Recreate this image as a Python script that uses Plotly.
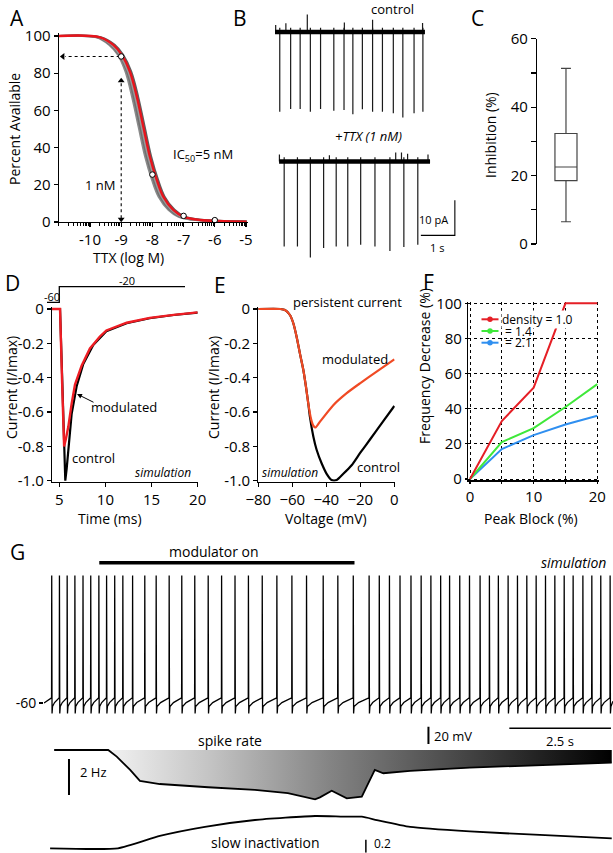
import math
import plotly.graph_objects as go

W, H = 613, 853
FONT = "Open Sans"

# ======================= DATA =======================
# ---- Panel A: TTX dose-response ----
a_log_ttx = [-11, -9.68, -9.25, -8.98, -8.72, -8.5, -8.29, -8.08, -7.86, -7.65, -7.33, -7.01, -6.47, -4.98]
a_red_fit = [100, 99.3, 95.2, 89.8, 80.8, 67.4, 51.2, 35.1, 22.6, 13.6, 6.5, 2.9, 1.1, 0.2]
a_gray_fit_x = [
    [-11, -9.80, -9.38, -9.10, -8.86, -8.65, -8.44, -8.23, -8.01, -7.80, -7.48, -7.16, -6.62, -4.98],
    [-11, -9.76, -9.34, -9.06, -8.81, -8.60, -8.39, -8.18, -7.96, -7.75, -7.43, -7.11, -6.57, -4.98],
    [-11, -9.72, -9.30, -9.03, -8.77, -8.55, -8.34, -8.13, -7.91, -7.70, -7.38, -7.06, -6.52, -4.98],
    [-11, -9.65, -9.21, -8.94, -8.68, -8.46, -8.25, -8.04, -7.82, -7.61, -7.29, -6.97, -6.43, -4.98],
]
a_gray_colors = ["#8a8a8a", "#707070", "#9a9a9a", "#5e5e5e"]
a_pts_log = [-9, -8, -7, -6]
a_pts_pct = [89, 25.5, 3.3, 1.0]
a_xticks = [-10, -9, -8, -7, -6, -5]
a_yticks = [0, 20, 40, 60, 80, 100]

# ---- Panel B: recordings ----
b_ctl_span = [0.0, 4.41]
b_ctl_spike_t = [0.14, 0.46, 0.74, 1.04, 1.34, 1.73, 2.03, 2.29, 2.57, 2.87, 3.16, 3.48, 3.76, 4.09, 4.35]
b_ctl_spike_pA = [-22.8, -22.0, -22.0, -22.8, -22.0, -22.5, -22.3, -23.5, -22.1, -22.8, -22.8, -23.2, -24.4, -23.2, -22.8]
b_ctl_blip_t = [0.02, 0.32, 0.95, 2.04, 2.87, 4.34]
b_ctl_blip_pA = [2.0, 2.5, 5.6, 2.7, 3.5, 2.6]
b_ttx_span = [0.12, 4.56]
b_ttx_spike_t = [0.27, 0.66, 1.04, 1.43, 1.80, 2.14, 2.52, 2.94, 3.38, 3.79, 4.20]
b_ttx_spike_pA = [-24.3, -24.3, -27.4, -24.7, -24.3, -24.3, -23.8, -24.3, -25.6, -24.4, -23.8]
b_ttx_blip_t = [0.13, 1.6, 3.55, 3.72, 3.9, 4.5]
b_ttx_blip_pA = [2.0, 1.8, 2.6, 2.6, 2.2, 2.0]

# ---- Panel C: inhibition box ----
c_q1, c_median, c_q3 = 18.5, 22.5, 32.3
c_low, c_high = 6.5, 51.3
c_yticks = [0, 10, 20, 30, 40, 50, 60]
c_ytext = ["0", "", "20", "", "40", "", "60"]

# ---- Panel D: transient current ----
d_t_ctl = [4.2, 5.08, 5.3, 5.5, 5.65, 5.8, 5.98, 6.34, 6.88, 7.6, 8.68, 10.1, 12.3, 14.8, 17.4, 20]
d_i_ctl = [0, 0, -0.38, -0.75, -1.0, -0.93, -0.82, -0.61, -0.45, -0.32, -0.21, -0.13, -0.083, -0.054, -0.035, -0.021]
d_t_mod = [4.2, 5.08, 5.3, 5.52, 5.7, 5.98, 6.34, 6.7, 7.42, 8.32, 9.4, 10.1, 12.3, 14.8, 17.4, 20]
d_i_mod = [0, 0, -0.42, -0.80, -0.76, -0.685, -0.55, -0.44, -0.33, -0.23, -0.16, -0.125, -0.08, -0.052, -0.034, -0.02]
di_ticks = [0, -0.2, -0.4, -0.6, -0.8, -1.0]
di_ticktext = ["0", "-0.2", "-0.4", "-0.6", "-0.8", "-1.0"]

# ---- Panel E: persistent current ----
e_v_mod = [-80, -67, -64.3, -61.4, -59.4, -57.5, -55.5, -53.5, -52, -50.6, -49, -47.6, -46.3, -43.7, -35.9, -28, -20.2, -10.4, 0]
e_i_mod = [0, 0, -0.006, -0.035, -0.083, -0.16, -0.26, -0.355, -0.45, -0.55, -0.64, -0.68, -0.69, -0.656, -0.56, -0.49, -0.433, -0.365, -0.293]
e_v_ctl = [-80, -67, -64.3, -61.4, -59.4, -57.5, -55.5, -53.5, -52, -50.6, -49.6, -47.6, -45.7, -42.7, -39.8, -36.9, -33.9, -30, -25.1, -20.2, -14.3, -7.45, 0]
e_i_ctl = [0, 0, -0.006, -0.035, -0.083, -0.16, -0.26, -0.355, -0.45, -0.55, -0.63, -0.744, -0.82, -0.9, -0.96, -0.996, -0.996, -0.96, -0.91, -0.84, -0.76, -0.666, -0.565]

# ---- Panel F: frequency decrease ----
f_block = [0, 5, 10, 15, 20]
f_dens_10 = [0, 33, 52, 100, 100]
f_dens_14 = [0, 21, 29, 41, 54]
f_dens_21 = [0, 17, 25, 31, 36]
f_names = ["density = 1.0", "= 1.4", "= 2.1"]
f_colors = ["#e51f26", "#3fe83a", "#2f8ff0"]

# ---- Panel G: simulation ----
g_spike_t = [0.19, 0.38, 0.57, 0.76, 0.96, 1.15, 1.35, 1.54, 1.74, 1.94, 2.18, 2.48, 2.76, 3.08,
             3.39, 3.71, 4.04, 4.37, 4.70, 5.03, 5.37, 5.73, 6.10, 6.46, 6.87, 7.23, 7.61, 8.00,
             8.25, 8.50, 8.76, 9.03, 9.28, 9.52, 9.76, 9.98, 10.23, 10.47, 10.73, 10.96, 11.18,
             11.42, 11.65, 11.88, 12.11, 12.34, 12.57, 12.80, 13.02, 13.26, 13.48, 13.70, 13.93]
g_mod_on = [1.36, 7.64]
g_rate_t = [0.25, 1.58, 1.79, 2.12, 2.36, 2.85, 4.04, 5.19, 6.00, 6.34, 6.67, 6.79, 7.08, 7.45,
            7.82, 8.14, 8.35, 9.01, 10.48, 13.97]
g_rate_hz = [5.10, 5.10, 4.73, 3.99, 3.38, 3.21, 3.03, 2.88, 2.71, 2.54, 2.36, 2.47, 2.84, 2.41,
             2.51, 3.99, 3.81, 3.94, 4.12, 4.40]
g_rate_base = 5.10
g_slow_t = [0.15, 1.82, 2.85, 3.96, 5.19, 6.67, 7.36, 7.82, 8.19, 9.01, 10.48, 12.2, 13.97]
g_slow_val = [0, 0, 0.19, 0.33, 0.435, 0.497, 0.488, 0.486, 0.435, 0.33, 0.26, 0.205, 0.154]

# ======================= HELPERS =======================
def lin(va, pa, vb, pb):
    s = (pb - pa) / (vb - va)
    return lambda v: pa + (v - va) * s

def xdom(f, r):
    p0, p1 = f(r[0]), f(r[1])
    return [max(0, min(p0, p1) / W), min(1, max(p0, p1) / W)]

def ydom(f, r):
    p0, p1 = f(r[0]), f(r[1])
    return [max(0, 1 - max(p0, p1) / H), min(1, 1 - min(p0, p1) / H)]

TICKSIZE = 15

def axstyle(**kw):
    d = dict(showline=True, linecolor="black", linewidth=1.2, ticks="outside", ticklen=4,
             tickwidth=1.2, tickcolor="black", showgrid=False, zeroline=False, automargin=False,
             tickfont=dict(size=TICKSIZE, color="black", family=FONT), fixedrange=True)
    d.update(kw)
    return d

hidden = dict(visible=False, fixedrange=True, showgrid=False, zeroline=False, automargin=False)

fig = go.Figure()
layout = {}
annotations = []

def txt(x, y, s, size=14, angle=0, anchor="center", bg=None):
    a = dict(x=x, y=y, xref="x11", yref="y11", text=s, showarrow=False,
             font=dict(size=size, family=FONT, color="black"), textangle=angle,
             xanchor=anchor, yanchor="middle")
    if bg:
        a["bgcolor"] = bg
        a["borderpad"] = 0
    annotations.append(a)

# ======================= PANEL A =======================
fxA = lin(-10, 90, -5, 246)
fyA = lin(0, 222, 100, 36)
rxA, ryA = [-11, -4.93], [0, 101.5]
a_minor = [n + math.log10(k) for n in range(-11, -5) for k in range(2, 10)] + [-11]
layout["xaxis"] = axstyle(domain=xdom(fxA, rxA), range=rxA, anchor="y", tickvals=a_xticks,
                          ticktext=[str(v) for v in a_xticks],
                          minor=dict(tickvals=a_minor, ticks="outside", ticklen=2.5, tickcolor="black", tickwidth=1))
layout["yaxis"] = axstyle(domain=ydom(fyA, ryA), range=ryA, anchor="x", tickvals=a_yticks,
                          ticktext=[str(v) for v in a_yticks])
for gxs, gc in zip(a_gray_fit_x, a_gray_colors):
    fig.add_trace(go.Scatter(x=gxs, y=a_red_fit, mode="lines", line=dict(color=gc, width=2.2, shape="spline"),
                             xaxis="x", yaxis="y", hoverinfo="skip"))
fig.add_trace(go.Scatter(x=a_log_ttx, y=a_red_fit, mode="lines", line=dict(color="#e8141c", width=2.4, shape="spline"),
                         xaxis="x", yaxis="y"))
# dotted arrows at 1 nM
fig.add_trace(go.Scatter(x=[a_pts_log[0] - 0.05, -10.8], y=[a_pts_pct[0], a_pts_pct[0]], mode="lines",
                         line=dict(color="black", width=1.1, dash="dot"), xaxis="x", yaxis="y"))
fig.add_trace(go.Scatter(x=[a_pts_log[0], a_pts_log[0]], y=[2, 75], mode="lines",
                         line=dict(color="black", width=1.1, dash="dot"), xaxis="x", yaxis="y"))
fig.add_trace(go.Scatter(x=[-10.87, a_pts_log[0], a_pts_log[0]], y=[a_pts_pct[0], 76, 1.5], mode="markers",
                         marker=dict(symbol=["triangle-left", "triangle-up", "triangle-down"], size=6, color="black"),
                         xaxis="x", yaxis="y", cliponaxis=False))
fig.add_trace(go.Scatter(x=a_pts_log, y=a_pts_pct, mode="markers",
                         marker=dict(symbol="circle", size=5.5, color="white", line=dict(color="black", width=1)),
                         xaxis="x", yaxis="y", cliponaxis=False))

# ======================= PANEL B =======================
fxB = lin(0, 275, 1, 309)
rxB = [0, 5.35]
fyB1 = lin(0, 32, -10, 67)
ryB1 = [-26, 5]
fyB2 = lin(0, 161.5, -10, 196.5)
ryB2 = [-30, 5]
layout["xaxis2"] = dict(hidden, domain=xdom(fxB, rxB), range=rxB, anchor="y2")
layout["yaxis2"] = dict(hidden, domain=ydom(fyB1, ryB1), range=ryB1, anchor="x2")
layout["xaxis3"] = dict(hidden, domain=xdom(fxB, rxB), range=rxB, anchor="y3")
layout["yaxis3"] = dict(hidden, domain=ydom(fyB2, ryB2), range=ryB2, anchor="x3")

def spikes(ts, amps, top):
    xs, ys = [], []
    for t, a in zip(ts, amps):
        xs += [t, t, None]
        ys += [top, a, None]
    return xs, ys

for xa, ya, span, st, sa, bt, ba in [("x2", "y2", b_ctl_span, b_ctl_spike_t, b_ctl_spike_pA, b_ctl_blip_t, b_ctl_blip_pA),
                                     ("x3", "y3", b_ttx_span, b_ttx_spike_t, b_ttx_spike_pA, b_ttx_blip_t, b_ttx_blip_pA)]:
    sx, sy = spikes(st, sa, 1.2)
    fig.add_trace(go.Scatter(x=sx, y=sy, mode="lines", line=dict(color="#1a1a1a", width=1.2), xaxis=xa, yaxis=ya))
    bx, by = spikes(bt, ba, 0)
    fig.add_trace(go.Scatter(x=bx, y=by, mode="lines", line=dict(color="#1a1a1a", width=1.2), xaxis=xa, yaxis=ya))
    fig.add_trace(go.Scatter(x=span, y=[0, 0], mode="lines", line=dict(color="black", width=4.5), xaxis=xa, yaxis=ya))
# scale bar (10 pA, 1 s)
fig.add_trace(go.Scatter(x=[4.29, 5.29, 5.29], y=[-21.1, -21.1, -11.1], mode="lines",
                         line=dict(color="black", width=1.1), xaxis="x3", yaxis="y3"))

# ======================= PANEL C =======================
fyC = lin(0, 244, 60, 38.7)
ryC = [0, 60]
layout["xaxis4"] = dict(hidden, domain=[537 / W, 600 / W], range=[0, 1], anchor="y4")
layout["yaxis4"] = axstyle(domain=ydom(fyC, ryC), range=ryC, anchor="x4", tickvals=c_yticks, ticktext=c_ytext,
                           ticklen=5)
fig.add_trace(go.Box(x=[0.46], q1=[c_q1], median=[c_median], q3=[c_q3], lowerfence=[c_low], upperfence=[c_high],
                     width=0.35, whiskerwidth=0.45, fillcolor="rgba(0,0,0,0)",
                     line=dict(color="#444444", width=1.2), xaxis="x4", yaxis="y4", boxpoints=False))

# ======================= PANEL D =======================
fxD = lin(5, 59.3, 20, 197.7)
fyD = lin(0, 309, -1, 480.7)
rxD, ryD = [4.2, 20], [-1.006, 0.012]
layout["xaxis5"] = axstyle(domain=xdom(fxD, rxD), range=rxD, anchor="y5", tickvals=[5, 10, 15, 20])
layout["yaxis5"] = axstyle(domain=ydom(fyD, ryD), range=ryD, anchor="x5", tickvals=di_ticks, ticktext=di_ticktext)
fig.add_trace(go.Scatter(x=d_t_ctl, y=d_i_ctl, mode="lines", line=dict(color="black", width=2.2), xaxis="x5", yaxis="y5"))
fig.add_trace(go.Scatter(x=d_t_mod, y=d_i_mod, mode="lines", line=dict(color="#ee1d24", width=2.4), xaxis="x5", yaxis="y5"))

# ======================= PANEL E =======================
fxE = lin(-80, 258.3, 0, 394.3)
rxE = [-80, 0.3]
layout["xaxis6"] = axstyle(domain=xdom(fxE, rxE), range=rxE, anchor="y6", tickvals=[-80, -60, -40, -20, 0])
layout["yaxis6"] = axstyle(domain=ydom(fyD, ryD), range=ryD, anchor="x6", tickvals=di_ticks, ticktext=di_ticktext)
fig.add_trace(go.Scatter(x=e_v_ctl, y=e_i_ctl, mode="lines", line=dict(color="black", width=2.2, shape="spline", smoothing=0.6),
                         xaxis="x6", yaxis="y6"))
fig.add_trace(go.Scatter(x=e_v_mod, y=e_i_mod, mode="lines", line=dict(color="#f04a24", width=2.2, shape="spline", smoothing=0.6),
                         xaxis="x6", yaxis="y6"))

# ======================= PANEL F =======================
fxF = lin(0, 470, 20, 597.3)
fyF = lin(0, 479, 100, 303.3)
rxF, ryF = [-0.3, 20.25], [-0.8, 100.8]
grid = dict(showgrid=True, gridcolor="black", gridwidth=1, griddash="dot")
layout["xaxis7"] = axstyle(domain=xdom(fxF, rxF), range=rxF, anchor="y7", tickvals=[0, 5, 10, 15, 20],
                           ticktext=["0", "", "10", "", "20"], ticklen=2, **grid)
layout["yaxis7"] = axstyle(domain=ydom(fyF, ryF), range=ryF, anchor="x7", tickvals=[0, 20, 40, 60, 80, 100],
                           ticklen=2, **grid)
for yv, col in zip([f_dens_21, f_dens_14, f_dens_10], f_colors[::-1]):
    fig.add_trace(go.Scatter(x=f_block, y=yv, mode="lines", line=dict(color=col, width=2), xaxis="x7", yaxis="y7"))

# ======================= PANEL G =======================
fxG = lin(0, 44, 1, 84.64)
rxG = [0, 14]
fyG1 = lin(-60, 703, -40, 685.66)
ryG1 = [-110, 105]
fyG2 = lin(5.1, 750, 4.1, 768)
ryG2 = [2.0, 6.0]
fyG3 = lin(0, 848.3, 0.2, 835.3)
ryG3 = [-0.07, 0.55]
layout["xaxis8"] = dict(hidden, domain=xdom(fxG, rxG), range=rxG, anchor="y8")
layout["yaxis8"] = dict(domain=ydom(fyG1, ryG1), range=ryG1, anchor="x8", showline=False, showgrid=False, zeroline=False,
                        ticks="outside", ticklen=4, tickwidth=1.2, tickcolor="black", tickvals=[-60], ticktext=["-60"],
                        tickfont=dict(size=14, color="black", family=FONT), fixedrange=True, automargin=False)
layout["xaxis9"] = dict(hidden, domain=xdom(fxG, rxG), range=rxG, anchor="y9")
layout["yaxis9"] = dict(hidden, domain=ydom(fyG2, ryG2), range=ryG2, anchor="x9")
layout["xaxis10"] = dict(hidden, domain=xdom(fxG, rxG), range=rxG, anchor="y10")
layout["yaxis10"] = dict(hidden, domain=ydom(fyG3, ryG3), range=ryG3, anchor="x10")

# membrane potential trace built around the read spike times
gx, gy = [0.0], [-60.0]
for i, ts in enumerate(g_spike_t):
    gx += [ts - 0.004, ts, ts + 0.008, ts + 0.02]
    gy += [-54, 87, -72, -64]
    nxt = g_spike_t[i + 1] if i + 1 < len(g_spike_t) else None
    if nxt is not None:
        gx += [ts + 0.02 + 0.3 * (nxt - ts - 0.024)]
        gy += [-59.5]
gx += [14.0]
gy += [-58]
fig.add_trace(go.Scatter(x=gx, y=gy, mode="lines", line=dict(color="black", width=1.3), xaxis="x8", yaxis="y8"))
# modulator bar and scale bars
fig.add_trace(go.Scatter(x=g_mod_on, y=[101.8, 101.8], mode="lines", line=dict(color="black", width=3.5), xaxis="x8", yaxis="y8"))
fig.add_trace(go.Scatter(x=[9.46, 9.46], y=[-87.3, -107.3], mode="lines", line=dict(color="black", width=2), xaxis="x8", yaxis="y8"))
fig.add_trace(go.Scatter(x=[11.45, 13.95], y=[-89.2, -89.2], mode="lines", line=dict(color="black", width=1.5), xaxis="x8", yaxis="y8"))

# spike rate with gradient fill
fig.add_trace(go.Scatter(x=g_rate_t, y=[g_rate_base] * len(g_rate_t), mode="lines", line=dict(width=0, color="rgba(0,0,0,0)"),
                         xaxis="x9", yaxis="y9"))
fig.add_trace(go.Scatter(x=g_rate_t, y=g_rate_hz, mode="lines", line=dict(color="black", width=1.8),
                         fill="tonexty",
                         fillgradient=dict(type="horizontal", start=g_rate_t[1], stop=g_rate_t[-1],
                                           colorscale=[[0, "#f2f2f2"], [0.2, "#c4c4c4"], [0.44, "#848484"],
                                                       [0.72, "#424242"], [1, "#000000"]]),
                         xaxis="x9", yaxis="y9"))
fig.add_trace(go.Scatter(x=[0.615, 0.615], y=[4.6, 2.6], mode="lines", line=dict(color="black", width=2), xaxis="x9", yaxis="y9"))

# slow inactivation
fig.add_trace(go.Scatter(x=g_slow_t, y=g_slow_val, mode="lines", line=dict(color="black", width=1.8, shape="spline", smoothing=0.5),
                         xaxis="x10", yaxis="y10"))
fig.add_trace(go.Scatter(x=[7.92, 7.92], y=[0.13, -0.07], mode="lines", line=dict(color="black", width=1.5), xaxis="x10", yaxis="y10"))

# ======================= OVERLAY (decorations, pixel space) =======================
layout["xaxis11"] = dict(hidden, domain=[0, 1], range=[0, W], anchor="y11")
layout["yaxis11"] = dict(hidden, domain=[0, 1], range=[H, 0], anchor="x11")
# D voltage protocol
fig.add_trace(go.Scatter(x=[47, 59.3, 59.3, 185], y=[302.3, 302.3, 286.7, 286.7], mode="lines",
                         line=dict(color="black", width=1.3), xaxis="x11", yaxis="y11"))
# F legend glyphs
for k, col in enumerate(f_colors):
    yk = 319.3 + 11.7 * k
    fig.add_trace(go.Scatter(x=[481.5, 498.5], y=[yk, yk], mode="lines", line=dict(color=col, width=2),
                             xaxis="x11", yaxis="y11"))
    fig.add_trace(go.Scatter(x=[490], y=[yk], mode="markers", marker=dict(color=col, size=5.5),
                             xaxis="x11", yaxis="y11"))

# panel letters
for L, x, y in [("A", 17, 18), ("B", 240, 18), ("C", 477, 18), ("D", 12, 283), ("E", 220, 285), ("F", 428, 282), ("G", 17, 552)]:
    txt(x, y, L, size=21)

TS = 14
# Panel A texts
txt(14, 129, "Percent Available", size=TS, angle=-90)
txt(128, 257, "TTX (log M)", size=TS)
txt(100, 185, "1 nM", size=13)
txt(203, 155, "IC<sub>50</sub>=5 nM", size=13)
# Panel B texts
txt(392, 9, "control", size=13)
txt(368, 136, "<i>+TTX (1 nM)</i>", size=13)
txt(450, 219, "10 pA", size=11, anchor="right")
txt(437, 247, "1 s", size=11)
# Panel C
txt(490, 135, "Inhibition (%)", size=TS, angle=-90)
# Panel D
txt(11, 388, "Current (I/Imax)", size=TS, angle=-90)
txt(110, 518, "Time (ms)", size=TS)
txt(52, 296, "-60", size=11)
txt(127, 280, "-20", size=11)
txt(124, 407, "modulated", size=13)
txt(93, 458, "control", size=13)
txt(163, 472, "<i>simulation</i>", size=12)
annotations.append(dict(x=77, y=394, ax=95, ay=403, xref="x11", yref="y11", axref="x11", ayref="y11",
                        text="", showarrow=True, arrowhead=2, arrowsize=1, arrowwidth=1, arrowcolor="black"))
# Panel E
txt(213, 388, "Current (I/Imax)", size=TS, angle=-90)
txt(326, 518, "Voltage (mV)", size=TS)
txt(347, 302, "persistent current", size=13)
txt(355, 359, "modulated", size=13)
txt(378, 467, "control", size=13)
txt(290, 472, "<i>simulation</i>", size=12)
# Panel F
txt(424, 366, "Frequency Decrease (%)", size=TS, angle=-90)
txt(531, 518, "Peak Block (%)", size=TS)
for k, name in enumerate(f_names):
    txt(500.5 if k == 0 else 503, 319.3 + 11.7 * k, name, size=12, anchor="left", bg="white" if k == 0 else None)
# Panel G
txt(214, 551, "modulator on", size=14)
txt(573, 562, "<i>simulation</i>", size=14)
txt(230, 740, "spike rate", size=14)
txt(265, 842, "slow inactivation", size=14)
txt(93, 772, "2 Hz", size=13)
txt(382, 843, "0.2", size=12)
txt(453, 736, "20 mV", size=13)
txt(560, 741, "2.5 s", size=13)

fig.update_layout(width=W, height=H, autosize=False, margin=dict(l=0, r=0, t=0, b=0, pad=0, autoexpand=False),
                  showlegend=False, paper_bgcolor="white", plot_bgcolor="rgba(0,0,0,0)",
                  font=dict(family=FONT, color="black"), annotations=annotations, **layout)
fig.write_html("out.html", config={"displayModeBar": False, "staticPlot": True},
               post_script="document.body.style.margin='0px';document.body.style.padding='0px';")
